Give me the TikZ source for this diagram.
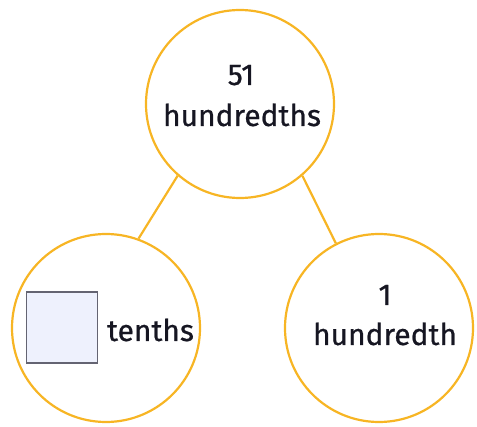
\documentclass[tikz,border=0pt]{standalone}
\usepackage{fontspec}
\setmainfont{Fira Sans}[UprightFeatures={FakeBold=0.7}]
\definecolor{ringcol}{RGB}{247,181,36}
\definecolor{txtcol}{RGB}{22,22,34}
\definecolor{boxfill}{RGB}{238,241,253}
\definecolor{boxline}{RGB}{100,100,114}
\begin{document}
\begin{tikzpicture}[x=1pt,y=-1pt,
  ring/.style={circle,draw=ringcol,line width=2.2pt,fill=white,minimum size=188pt,inner sep=0pt},
  link/.style={draw=ringcol,line width=2.2pt},
  lbl/.style={text=txtcol,font=\fontsize{30}{40}\selectfont,inner sep=0pt,anchor=base},
  blank/.style={draw=boxline,line width=1.8pt,fill=boxfill,minimum size=71pt,inner sep=0pt}]
\useasboundingbox (0,0) rectangle (477,427);
\node[ring] (top) at (240,104) {};
\node[ring] (left) at (106,328) {};
\node[ring] (right) at (379,328) {};
\draw[link] (top.229) -- (left.70);
\draw[link] (top.311) -- (right.117);
\node[lbl] (t1) at (241,85) {51};
\node[lbl] (t2) at (242,126) {hundredths};
\node[blank] (sq) at (62,327.5) {};
\node[lbl,anchor=base west] (t3) at (107,341) {tenths};
\node[lbl] (r1) at (385,305) {1};
\node[lbl] (r2) at (385,345) {hundredth};
\end{tikzpicture}
\end{document}
